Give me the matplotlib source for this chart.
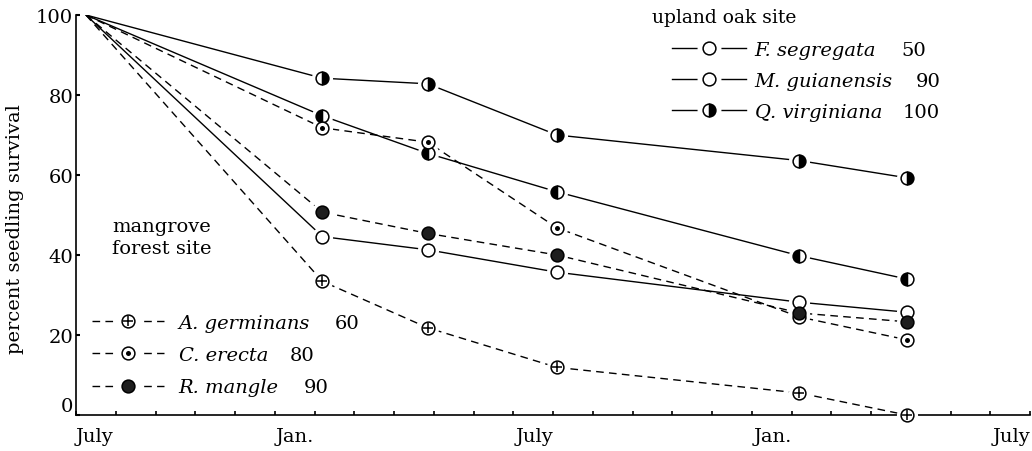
import matplotlib
matplotlib.use("Agg")
import matplotlib.pyplot as plt
from matplotlib.lines import Line2D
from matplotlib.legend_handler import HandlerTuple

plt.rcParams['font.family'] = ['DejaVu Serif']

# ---------------- data ----------------
months = [0.25, 6.2, 8.85, 12.1, 18.2, 20.9]          # months since July
q_virginiana = [100, 84.2, 82.8, 70.0, 63.6, 59.3]
m_guianensis = [100, 74.8, 65.4, 55.8, 39.8, 34.0]
f_segregata = [100, 44.6, 41.3, 35.7, 28.2, 25.7]
a_germinans = [100, 33.4, 21.8, 11.9, 5.5, 0.0]
c_erecta = [100, 71.8, 68.2, 46.8, 24.5, 18.8]
r_mangle = [100, 50.7, 45.4, 40.0, 25.5, 23.3]

upland_names = ["F. segregata", "M. guianensis", "Q. virginiana"]
upland_nums = ["50", "90", "100"]
mangrove_names = ["A. germinans", "C. erecta", "R. mangle"]
mangrove_nums = ["60", "80", "90"]

month_ticks = list(range(0, 25))
month_label_pos = [0, 6, 12, 18, 24]
month_labels = ["July", "Jan.", "July", "Jan.", "July"]
y_ticks = [0, 20, 40, 60, 80, 100]

# ---------------- figure ----------------
W, H = 1032, 452
fig = plt.figure(figsize=(W / 100, H / 100), dpi=100)
ax_left, ax_right, ax_bottom, ax_top = 76, 1030, 416, 16
ax = fig.add_axes([ax_left / W, 1 - ax_bottom / H,
                   (ax_right - ax_left) / W, (ax_bottom - ax_top) / H])
ax.set_xlim(0, 24)
ax.set_ylim(0, 100)

FS = 14
MS = 9.2
MEW = 1.1
LW = 1.0
DASH = (5.5, 3.8)
mark_idx = [1, 2, 3, 4, 5]


def series(y, dashed, marker_layers):
    kw = dict(color='black', lw=LW, zorder=2, solid_capstyle='butt')
    if dashed:
        ax.plot(months, y, linestyle=(0, DASH), **kw)
    else:
        ax.plot(months, y, linestyle='-', **kw)
    # white halo to leave a small gap between line and marker
    ax.plot(months, y, linestyle='none', marker='o', ms=MS + 5,
            mfc='white', mec='white', markevery=mark_idx, zorder=3,
            clip_on=False)
    for lay in marker_layers:
        ax.plot(months, y, linestyle='none', markevery=mark_idx, zorder=4,
                clip_on=False, **lay)


open_c = dict(marker='o', ms=MS, mfc='white', mec='black', mew=MEW)
right_half = dict(marker='o', ms=MS, mfc='black', mfcalt='white', mec='black',
                  mew=MEW, fillstyle='right')
left_half = dict(marker='o', ms=MS, mfc='black', mfcalt='white', mec='black',
                 mew=MEW, fillstyle='left')
filled = dict(marker='o', ms=MS, mfc='#1e1e1e', mec='black', mew=MEW)
plus = dict(marker='+', ms=MS - 1.6, mec='black', mew=MEW)
dot = dict(marker='o', ms=3.6, mfc='black', mec='black', mew=0)

series(q_virginiana, False, [right_half])
series(m_guianensis, False, [left_half])
series(f_segregata, False, [open_c])
series(a_germinans, True, [open_c, plus])
series(c_erecta, True, [open_c, dot])
series(r_mangle, True, [filled])

# ---------------- axes styling ----------------
for s in ['top', 'right']:
    ax.spines[s].set_visible(False)
for s in ['left', 'bottom']:
    ax.spines[s].set_linewidth(1.2)

ax.set_xticks(month_ticks)
lbls = []
for m in month_ticks:
    lbls.append(month_labels[month_label_pos.index(m)] if m in month_label_pos else "")
ax.set_xticklabels(lbls)
for t, m in zip(ax.get_xticklabels(), month_ticks):
    t.set_ha('left' if m == 0 else 'right')
ax.tick_params(axis='x', direction='in', length=3, width=1.2, pad=9,
               labelsize=FS)
ax.set_yticks(y_ticks)
ax.tick_params(axis='y', direction='in', length=3, width=1.5, pad=2,
               labelsize=FS)
for t, v in zip(ax.get_yticklabels(), y_ticks):
    if v == 0:
        t.set_va('bottom')

fig.text(15 / W, 1 - 229 / H, "percent seedling survival", rotation=90,
         ha='center', va='center', fontsize=FS)
fig.text(652 / W, 1 - 18 / H, "upland oak site", ha='left', va='center',
         fontsize=13.5)
fig.text(112 / W, 1 - 238 / H, "mangrove\nforest site", ha='left',
         va='center', fontsize=FS, linespacing=1.3)


# ---------------- legends ----------------
def handle(dashed, layers):
    ls = (0, DASH) if dashed else '-'
    line = Line2D([], [], color='black', lw=LW, linestyle=ls)
    halo = Line2D([], [], linestyle='none', marker='o', ms=MS + 7,
                  mfc='white', mec='white')
    mk = [Line2D([], [], linestyle='none', **lay) for lay in layers]
    return tuple([line, halo] + mk)


leg_prop = {'style': 'italic', 'size': FS}
up_handles = [handle(False, [open_c]), handle(False, [open_c]),
              handle(False, [right_half])]
leg1 = fig.legend(up_handles, upland_names, loc='upper left',
                  bbox_to_anchor=(672 / W, 1 - 42 / H), frameon=False,
                  prop=leg_prop, handlelength=3.8, handletextpad=0.45,
                  labelspacing=0.66, borderpad=0, borderaxespad=0,
                  handler_map={tuple: HandlerTuple(ndivide=1)})

mg_handles = [handle(True, [open_c, plus]), handle(True, [open_c, dot]),
              handle(True, [filled])]
leg2 = fig.legend(mg_handles, mangrove_names, loc='upper left',
                  bbox_to_anchor=(92 / W, 1 - 315 / H), frameon=False,
                  prop=leg_prop, handlelength=3.7, handletextpad=0.75,
                  labelspacing=0.73, borderpad=0, borderaxespad=0,
                  handler_map={tuple: HandlerTuple(ndivide=1)})

# numbers that follow the species names
fig.canvas.draw()
renderer = fig.canvas.get_renderer()
inv = fig.transFigure.inverted()
for leg, nums, gaps in [(leg1, upland_nums, [25, 23, 21]),
                        (leg2, mangrove_nums, [25, 22, 25])]:
    for txt, num, gap in zip(leg.get_texts(), nums, gaps):
        bb = txt.get_window_extent(renderer)
        x0, _ = inv.transform((bb.x1 + gap, 0))
        _, yc = inv.transform((0, (bb.y0 + bb.y1) / 2))
        fig.text(x0, yc, num, ha='left', va='center', fontsize=FS)

fig.savefig("out.png", dpi=100, facecolor='white')
